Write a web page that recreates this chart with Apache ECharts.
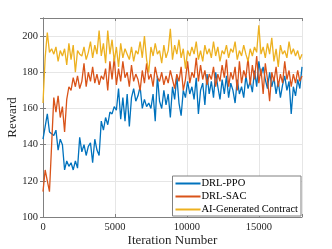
<!DOCTYPE html>
<html>
<head>
<meta charset="utf-8">
<script src="https://cdn.jsdelivr.net/npm/echarts@6/dist/echarts.min.js"></script>
<style>html,body{margin:0;padding:0;background:#fff}#c{width:332px;height:249px}</style>
</head>
<body>
<div id="c"></div>
<script>
const step = 150;
const seriesNames = ['DRL-PPO', 'DRL-SAC', 'AI-Generated Contract'];
const ppo = [143,150,157,147,146,145,148,137,143,140,126,131,128,130,126,131,127,144,136,140,134,139,141,130,143,137,134,153,148,155,151,158,157,161,159,171,154,166,153,168,150,166,171,164,167,172,160,165,161,163,160,168,153,178,164,160,170,162,168,155,172,165,178,163,156,170,166,175,168,172,165,177,157,170,174,162,179,168,175,166,180,172,165,176,168,178,166,174,170,163,176,168,172,166,178,171,175,169,181,172,186,178,183,176,171,180,172,177,168,175,166,173,178,170,175,157,172,167,176,171,183];
const sac = [114,126,120,114,140,166,158,167,155,161,147,165,172,170,177,172,178,171,175,185,172,180,175,183,174,179,173,178,176,182,170,186,176,188,173,182,175,186,177,180,172,184,175,179,176,170,181,174,185,176,179,172,183,177,175,180,173,178,174,181,176,171,179,175,183,170,176,186,174,180,177,188,175,184,176,181,173,179,176,183,172,179,175,184,177,187,172,180,176,183,170,186,174,181,177,188,173,184,176,189,174,182,168,185,176,164,180,175,183,172,179,174,186,176,181,172,179,174,181,175,178];
const aigc = [163,188,202,191,193,190,194,186,192,189,193,184,196,187,195,180,192,190,189,194,187,191,197,188,195,190,203,189,196,185,203,190,198,186,194,183,196,188,193,190,187,194,186,192,190,197,188,200,187,180,194,189,196,190,192,185,195,188,192,204,187,195,190,198,188,193,182,192,189,194,190,197,187,192,186,195,190,193,188,197,189,194,186,192,190,195,188,193,191,197,187,192,189,195,190,186,193,189,194,191,206,190,194,188,196,190,199,186,193,183,195,190,192,188,197,190,193,189,192,187,190];
const colors = ['#0072BD', '#D95319', '#EDB120'];
const toPts = arr => arr.map((v, i) => [i * step, v]);
const font = 'Liberation Serif, Times New Roman, serif';
const chart = echarts.init(document.getElementById('c'));
const axisLine = {show: true, lineStyle: {color: '#808080', width: 1}};
chart.setOption({
  animation: false,
  grid: {left: 43, right: 30, top: 18, bottom: 32, containLabel: false, outerBoundsMode: 'none'},
  legend: {
    right: 31, bottom: 33, orient: 'vertical',
    backgroundColor: '#fff', borderColor: '#808080', borderWidth: 1,
    padding: [2, 3, 1, 3], itemGap: 2, itemWidth: 25, itemHeight: 2, icon: 'rect',
    textStyle: {fontFamily: font, fontSize: 10.5, color: '#000', padding: [0, 0, 0, -4]},
    data: seriesNames
  },
  xAxis: [{
    type: 'value', min: 0, max: 18000, interval: 5000,
    name: 'Iteration Number', nameLocation: 'middle', nameGap: 17, nameMoveOverlap: false,
    nameTextStyle: {fontFamily: font, fontSize: 13, color: '#262626'},
    axisLine: axisLine,
    axisTick: {show: true, inside: true, length: 3, lineStyle: {color: '#808080'}},
    axisLabel: {fontFamily: font, fontSize: 10.5, color: '#262626', margin: 5,
      formatter: v => (v % 5000 === 0 ? String(v) : '')},
    splitLine: {show: true, lineStyle: {color: '#e6e6e6'}}
  }, {
    type: 'value', min: 0, max: 18000, interval: 5000, position: 'top',
    axisLine: axisLine,
    axisTick: {show: true, inside: true, length: 3, lineStyle: {color: '#808080'}},
    axisLabel: {show: false}, splitLine: {show: false}
  }],
  yAxis: [{
    type: 'value', min: 100, max: 210, interval: 20,
    name: 'Reward', nameLocation: 'middle', nameGap: 24, nameMoveOverlap: false,
    nameTextStyle: {fontFamily: font, fontSize: 13, color: '#262626'},
    axisLine: axisLine,
    axisTick: {show: true, inside: true, length: 3, lineStyle: {color: '#808080'}},
    axisLabel: {fontFamily: font, fontSize: 10.5, color: '#262626', margin: 5,
      formatter: v => (v % 20 === 0 ? String(v) : '')},
    splitLine: {show: true, lineStyle: {color: '#e6e6e6'}}
  }, {
    type: 'value', min: 100, max: 210, interval: 20, position: 'right',
    axisLine: axisLine,
    axisTick: {show: true, inside: true, length: 3, lineStyle: {color: '#808080'}},
    axisLabel: {show: false}, splitLine: {show: false}
  }],
  series: [ppo, sac, aigc].map((arr, k) => ({
    name: seriesNames[k], type: 'line', data: toPts(arr),
    symbol: 'none', showSymbol: false,
    lineStyle: {color: colors[k], width: 1.3},
    itemStyle: {color: colors[k]},
    xAxisIndex: 0, yAxisIndex: 0
  }))
});
</script>
</body>
</html>
